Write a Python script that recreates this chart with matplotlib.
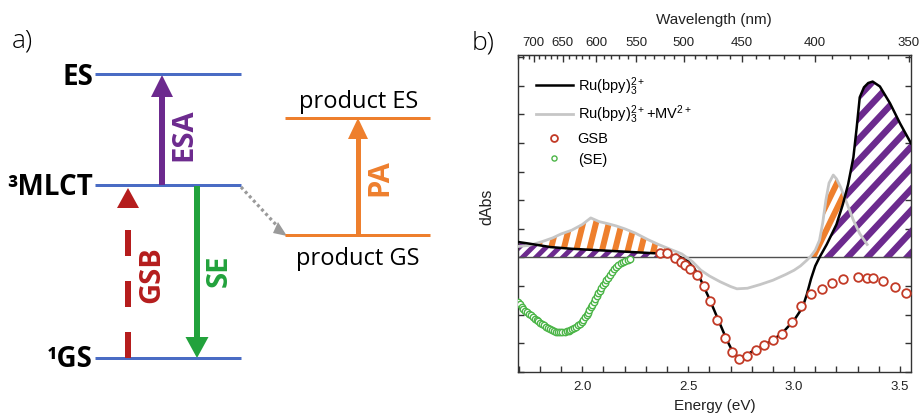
import numpy as np
import matplotlib
matplotlib.use("Agg")
import matplotlib.pyplot as plt
from matplotlib.patches import Polygon
from matplotlib.path import Path
from matplotlib.collections import LineCollection
from matplotlib.ticker import FixedLocator, MultipleLocator

# ---------------- data: transient absorption spectra ----------------
# Ru(bpy)3(2+) alone
E_ru = [1.695, 1.75, 1.85, 1.95, 2.05, 2.15, 2.25, 2.35, 2.42, 2.46, 2.50, 2.53,
        2.56, 2.60, 2.64, 2.68, 2.71, 2.74, 2.77, 2.80, 2.85, 2.90, 2.95, 3.00,
        3.04, 3.06, 3.08, 3.10, 3.12, 3.154, 3.20, 3.23, 3.255, 3.28, 3.295,
        3.31, 3.33, 3.35, 3.371, 3.405, 3.453, 3.50, 3.552]
dA_ru = [0.54, 0.48, 0.36, 0.30, 0.26, 0.22, 0.18, 0.14, 0.08, 0.02, -0.15, -0.40,
         -0.80, -1.45, -2.15, -2.85, -3.30, -3.52, -3.45, -3.30, -3.10, -2.90, -2.60, -2.20,
         -1.75, -1.30, -0.75, -0.30, 0.00, 0.45, 1.15, 1.85, 2.55, 3.50, 4.50,
         5.60, 5.95, 6.10, 6.15, 5.98, 5.39, 4.69, 3.99]

# Ru(bpy)3(2+) with methyl viologen
E_mv = [1.695, 1.75, 1.81, 1.86, 1.90, 1.95, 2.00, 2.04, 2.08, 2.12, 2.16, 2.20,
        2.25, 2.31, 2.36, 2.41, 2.47, 2.52, 2.56, 2.60, 2.65, 2.70, 2.73, 2.78,
        2.84, 2.90, 2.96, 3.00, 3.03, 3.06, 3.08, 3.10, 3.12, 3.135, 3.15, 3.165,
        3.185, 3.20, 3.22, 3.25, 3.28, 3.31, 3.345]
dA_mv = [0.38, 0.42, 0.55, 0.68, 0.82, 0.95, 1.15, 1.38, 1.25, 1.18, 1.10, 1.00,
         0.85, 0.62, 0.45, 0.30, 0.12, -0.15, -0.45, -0.65, -0.85, -1.02, -1.10, -1.08,
         -0.95, -0.80, -0.60, -0.45, -0.30, -0.10, 0.05, 0.25, 0.60, 1.20, 2.00, 2.60,
         2.88, 2.75, 2.45, 1.88, 1.30, 0.83, 0.45]

# ground-state bleach (inverted steady-state absorption)
E_gsb = [2.367, 2.398, 2.438, 2.466, 2.485, 2.509, 2.543, 2.575, 2.603, 2.637,
         2.674, 2.708, 2.741, 2.776, 2.819, 2.859, 2.902, 2.944, 2.989, 3.033,
         3.080, 3.130, 3.178, 3.229, 3.303, 3.343, 3.374, 3.421, 3.476, 3.528]
dA_gsb = [0.14, 0.14, -0.01, -0.15, -0.27, -0.42, -0.60, -1.00, -1.53, -2.20,
          -2.82, -3.31, -3.54, -3.46, -3.23, -3.05, -2.88, -2.68, -2.26, -1.71,
          -1.29, -1.09, -0.91, -0.77, -0.68, -0.72, -0.72, -0.83, -1.03, -1.24]

# stimulated emission (inverted emission spectrum)
E_se = [1.698, 1.705, 1.713, 1.722, 1.730, 1.739, 1.748, 1.757, 1.766, 1.775,
        1.784, 1.793, 1.802, 1.811, 1.820, 1.829, 1.838, 1.847, 1.856, 1.866,
        1.876, 1.886, 1.896, 1.906, 1.916, 1.926, 1.935, 1.944, 1.953, 1.962,
        1.971, 1.980, 1.989, 1.997, 2.005, 2.013, 2.020, 2.027, 2.034, 2.041,
        2.048, 2.055, 2.062, 2.069, 2.076, 2.083, 2.090, 2.098, 2.106, 2.114,
        2.122, 2.131, 2.140, 2.150, 2.160, 2.170, 2.181, 2.192, 2.203, 2.214, 2.225]
dA_se = [-1.56, -1.64, -1.72, -1.80, -1.86, -1.92, -1.97, -2.03, -2.09, -2.14,
         -2.19, -2.24, -2.28, -2.33, -2.38, -2.42, -2.46, -2.50, -2.54, -2.57,
         -2.60, -2.61, -2.61, -2.61, -2.60, -2.59, -2.57, -2.54, -2.51, -2.47,
         -2.43, -2.38, -2.32, -2.25, -2.18, -2.10, -2.02, -1.93, -1.84, -1.75,
         -1.65, -1.55, -1.45, -1.35, -1.25, -1.16, -1.07, -0.98, -0.89, -0.80,
         -0.71, -0.60, -0.50, -0.41, -0.33, -0.26, -0.20, -0.15, -0.11, -0.08, -0.06]

energy_ticks = [2.0, 2.5, 3.0, 3.5]
wavelength_ticks = [700, 650, 600, 550, 500, 450, 400, 350]

# ---------------- figure ----------------
W, H, DPI = 923, 418, 100
plt.rcParams['font.family'] = ['Liberation Sans', 'DejaVu Sans']
plt.rcParams['mathtext.default'] = 'regular'
plt.rcParams['lines.scale_dashes'] = False

fig = plt.figure(figsize=(W / DPI, H / DPI), dpi=DPI)


def pt(px):
    return px * 72.0 / DPI


# ---- panel a: energy level scheme (pixel coordinates, y downwards) ----
da = fig.add_axes([0, 0, 1, 1])
da.set_xlim(0, W)
da.set_ylim(H, 0)
da.axis('off')

BLUE = '#4a6cc4'
ORANGE = '#ee7f2d'
PURPLE = '#6c2a8e'
GREEN = '#22a23c'
RED = '#b51d1d'
DIAG_FONT = ['Open Sans', 'DejaVu Sans']

for y in (74, 185, 358):
    da.plot([95, 241], [y, y], color=BLUE, lw=pt(3), solid_capstyle='butt')
for y in (118, 235):
    da.plot([285, 430], [y, y], color=ORANGE, lw=pt(3), solid_capstyle='butt')


def arrow(x, y_tail, y_tip, color, shaft, head_w, head_l, dashes=None):
    s = np.sign(y_tip - y_tail)
    base = y_tip - s * head_l
    kw = dict(color=color, lw=pt(shaft), solid_capstyle='butt', dash_capstyle='butt')
    if dashes is not None:
        line, = da.plot([x, x], [y_tail, base - s * 20], **kw)
        line.set_dashes(dashes)
    else:
        da.plot([x, x], [y_tail, base + s * 1], **kw)
    da.add_patch(Polygon([[x - head_w / 2, base], [x + head_w / 2, base], [x, y_tip]],
                         closed=True, facecolor=color, edgecolor='none'))


arrow(162, 185, 75, PURPLE, 6, 22, 22)
arrow(197, 186, 358, GREEN, 6, 23, 21)
arrow(358, 235, 118, ORANGE, 5, 20, 21)
arrow(128, 358, 188, RED, 6, 22, 20, dashes=(pt(26), pt(25)))

# dotted transfer arrow to the product
dl, = da.plot([241, 280], [187, 229], color='#9a9a9a', lw=pt(3.2), solid_capstyle='butt')
dl.set_dashes((pt(3), pt(3)))
da.add_patch(Polygon([[278, 222], [273, 233], [287, 236]], closed=True,
                     facecolor='#9a9a9a', edgecolor='none'))

da.text(93, 85, 'ES', ha='right', va='baseline', fontsize=20, fontweight='bold',
        family=DIAG_FONT)
da.text(93, 195, '³MLCT', ha='right', va='baseline', fontsize=20, fontweight='bold',
        family=DIAG_FONT)
da.text(93, 367, '¹GS', ha='right', va='baseline', fontsize=20, fontweight='bold',
        family=DIAG_FONT)
da.text(359, 108, 'product ES', ha='center', va='baseline', fontsize=17, family=DIAG_FONT)
da.text(358, 265, 'product GS', ha='center', va='baseline', fontsize=17, family=DIAG_FONT)

da.text(184, 135, 'ESA', rotation=90, ha='center', va='center', fontsize=21,
        fontweight='bold', color=PURPLE, family=DIAG_FONT)
da.text(219, 271, 'SE', rotation=90, ha='center', va='center', fontsize=21,
        fontweight='bold', color=GREEN, family=DIAG_FONT)
da.text(152, 275, 'GSB', rotation=90, ha='center', va='center', fontsize=21,
        fontweight='bold', color=RED, family=DIAG_FONT)
da.text(380, 178, 'PA', rotation=90, ha='center', va='center', fontsize=21,
        fontweight='bold', color=ORANGE, family=DIAG_FONT)

da.text(12, 41, 'a)', ha='left', va='center', fontsize=19, fontweight='light',
        family=DIAG_FONT)
da.text(472, 43, 'b)', ha='left', va='center', fontsize=19, fontweight='light',
        family=DIAG_FONT)

# ---- panel b: spectra ----
L, R, T, B = 517.7, 911.0, 55.0, 371.7
ax = fig.add_axes([L / W, 1 - B / H, (R - L) / W, (B - T) / H])
ax.set_xlim(1.695, 3.552)
ax.set_ylim(-4.0, 7.08)


def hatch(x, lo, hi, mask, color, angle, spacing, width, phase=0.0):
    coll = ax.fill_between(x, lo, hi, where=mask, interpolate=True,
                           facecolor='none', edgecolor='none', lw=0)
    paths = [p for p in coll.get_paths() if len(p.vertices)]
    if not paths:
        return
    clip = Path.make_compound_path(*paths)
    bb = ax.get_window_extent()
    wp, hp = bb.width, bb.height
    th = np.deg2rad(angle)
    d = np.array([np.cos(th), np.sin(th)])
    n = np.array([-np.sin(th), np.cos(th)])
    diag = np.hypot(wp, hp)
    segs = []
    for k in np.arange(-int(diag / spacing) - 2, int(diag / spacing) + 3):
        c = np.array([wp / 2, hp / 2]) + (k * spacing + phase) * n
        a, b = c - diag * d, c + diag * d
        segs.append([(a[0] / wp, a[1] / hp), (b[0] / wp, b[1] / hp)])
    lc = LineCollection(segs, colors=color, linewidths=pt(width),
                        transform=ax.transAxes, capstyle='butt', zorder=2)
    ax.add_collection(lc)
    lc.set_clip_path(clip, ax.transData)


# common energy grid for the shaded difference regions
grid = np.linspace(1.695, 3.552, 1500)
ru_g = np.interp(grid, E_ru, dA_ru)
mv_g = np.interp(grid, E_mv, dA_mv, right=-10)
zero = np.zeros_like(grid)
ru_pos = np.maximum(ru_g, 0)

# excited-state absorption (purple) and product absorption (orange)
hatch(grid, zero, ru_g, (grid < 2.40) & (ru_g > 0), PURPLE, 45, 9.5, 5.0)
hatch(grid, zero, ru_g, (grid > 3.05) & (ru_g > 0), PURPLE, 47, 14.5, 6.5, phase=3)
hatch(grid, ru_pos, mv_g, (grid < 2.45) & (mv_g > ru_pos), ORANGE, 76, 12.5, 6.0)
hatch(grid, ru_pos, mv_g, (grid > 3.0) & (mv_g > ru_pos), ORANGE, 64, 11.0, 6.0, phase=2)

ax.axhline(0, color='#505050', lw=1.0, zorder=2.5)
ax.plot(E_mv, dA_mv, color='#c6c6c6', lw=2.0, zorder=3,
        label=r'Ru(bpy)$_3^{2+}$+MV$^{2+}$')
ax.plot(E_ru, dA_ru, color='black', lw=1.8, zorder=4, label=r'Ru(bpy)$_3^{2+}$')
ax.plot(E_gsb, dA_gsb, ls='none', marker='o', ms=6.2, mfc='white', mec='#c23a26',
        mew=1.3, zorder=5, label='GSB')
ax.plot(E_se, dA_se, ls='none', marker='o', ms=4.6, mfc='white', mec='#4cb548',
        mew=1.0, zorder=5, label='(SE)')

handles, labels = ax.get_legend_handles_labels()
order = [1, 0, 2, 3]
leg = ax.legend([handles[i] for i in order], [labels[i] for i in order],
                loc='upper left', bbox_to_anchor=(0.047, 0.937), frameon=False,
                fontsize=10.5, handlelength=2.5, handletextpad=0.35, labelspacing=0.42,
                borderpad=0, borderaxespad=0, markerscale=0.8)

# axes styling
for s in ax.spines.values():
    s.set_color('#333333')
    s.set_linewidth(1.0)
ax.set_xticks(energy_ticks)
ax.set_xticklabels([f'{v:.1f}' for v in energy_ticks])
ax.xaxis.set_minor_locator(MultipleLocator(0.1))
ax.yaxis.set_major_locator(MultipleLocator(1))
ax.set_yticklabels([])
ax.tick_params(axis='x', which='both', direction='in', top=False, length=4,
               width=1, colors='#333333', labelsize=9.5, labelcolor='#222222', pad=7)
ax.tick_params(axis='y', which='both', direction='in', left=True, right=True,
               length=4, width=1, colors='#333333')
ax.set_xlabel('Energy (eV)', fontsize=11, color='#222222', labelpad=4)
ax.set_ylabel('dAbs', fontsize=11.5, color='#222222')
ax.yaxis.set_label_coords(-0.06, 0.52)

top = ax.secondary_xaxis('top', functions=(lambda e: 1239.84 / np.asarray(e),
                                           lambda n: 1239.84 / np.asarray(n)))
top.set_xticks(wavelength_ticks)
top.set_xticklabels([str(v) for v in wavelength_ticks])
top.xaxis.set_minor_locator(FixedLocator(np.arange(360, 740, 10)))
top.tick_params(which='major', direction='in', length=5, width=1, colors='#333333',
                labelsize=9.5, labelcolor='#222222', pad=4)
top.tick_params(which='minor', direction='in', length=3, width=1, colors='#333333')
top.spines['top'].set_color('#333333')
top.set_xlabel('Wavelength (nm)', fontsize=11, color='#222222', labelpad=10)

fig.savefig('out.png', dpi=DPI)
